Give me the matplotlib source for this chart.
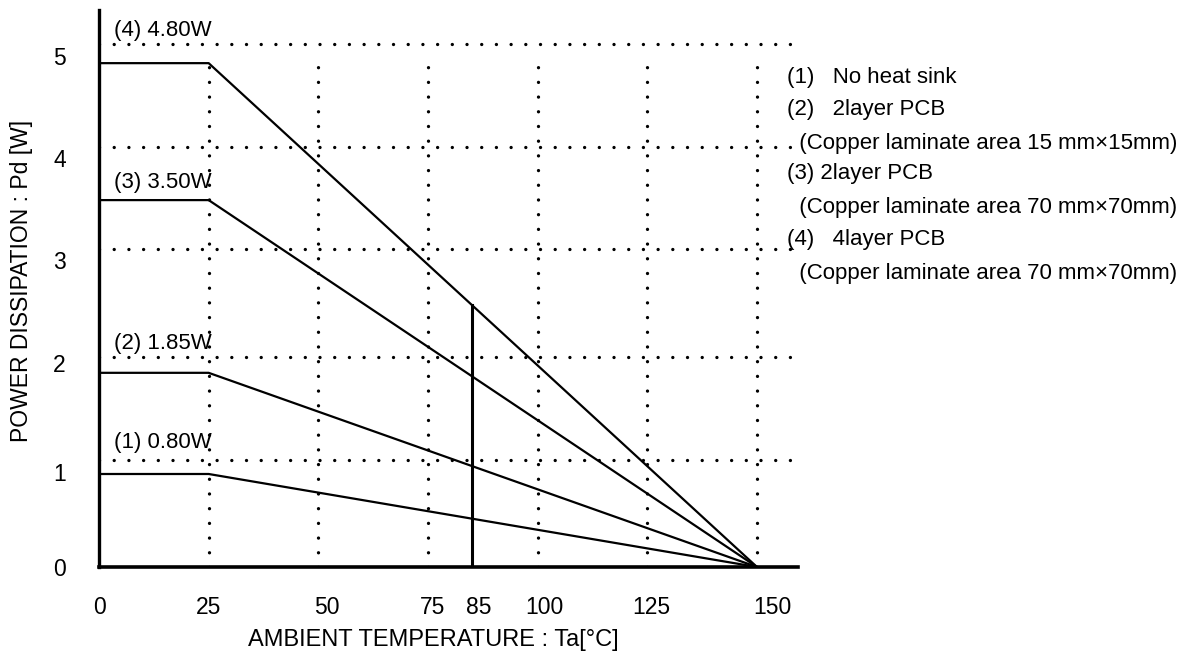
import numpy as np
import matplotlib
matplotlib.use("Agg")
import matplotlib.pyplot as plt

plt.rcParams['font.family'] = ['Liberation Sans', 'DejaVu Sans']

# ---- data ----
temp_points = [0, 25, 150]
curve_labels = ["(1) 0.80W", "(2) 1.85W", "(3) 3.50W", "(4) 4.80W"]
plateau_values = [0.91, 1.90, 3.59, 4.93]   # drawn heights (W)
label_y = [1.22, 2.19, 3.76, 5.25]
derate_line_temp = 85

xtick_pos = [0, 25, 52, 76, 86.5, 101.5, 126, 153.5]
xtick_labels = ["0", "25", "50", "75", "85", "100", "125", "150"]
ytick_pos = [0, 0.93, 2, 3, 4, 5]
ytick_labels = ["0", "1", "2", "3", "4", "5"]

grid_x = [25, 50, 75, 100, 125, 150]
grid_y = [1.05, 2.05, 3.11, 4.11, 5.12]

legend_lines = [
    "(1)   No heat sink",
    "(2)   2layer PCB",
    "  (Copper laminate area 15 mm×15mm)",
    "(3) 2layer PCB",
    "  (Copper laminate area 70 mm×70mm)",
    "(4)   4layer PCB",
    "  (Copper laminate area 70 mm×70mm)",
]

W, H = 1204, 654
fig = plt.figure(figsize=(W / 100, H / 100), dpi=100)
fig.patch.set_facecolor('white')

x0_px, x_end_px, y0_px, ytop_px = 99, 798, 567, 10
ax = fig.add_axes([x0_px / W, (H - y0_px) / H, (x_end_px - x0_px) / W, (y0_px - ytop_px) / H])
px_per_deg = (757 - 99) / 150
px_per_w = 102.2
ax.set_xlim(0, (x_end_px - x0_px) / px_per_deg)
ax.set_ylim(0, (y0_px - ytop_px) / px_per_w)

for s in ['top', 'right']:
    ax.spines[s].set_visible(False)
ax.spines['left'].set_linewidth(2.4)
ax.spines['bottom'].set_linewidth(2.6)

dot_style = dict(color='black', lw=2.4, linestyle=(0, (0.01, 4.4)), dash_capstyle='round')

# dotted grid
for gx in grid_x:
    ax.plot([gx, gx], [0, 5.03], **dot_style)
for gy in grid_y:
    ax.plot([0, 158.2], [gy, gy], **dot_style)

# curves
for v in plateau_values:
    ax.plot(temp_points, [v, v, 0], color='black', lw=1.6, solid_capstyle='butt')

# 85 deg vertical line up to curve (4)
top85 = np.interp(derate_line_temp, temp_points, [plateau_values[-1], plateau_values[-1], 0])
ax.plot([derate_line_temp, derate_line_temp], [0, top85], color='black', lw=2.2)

for lab, ly in zip(curve_labels, label_y):
    ax.text(3.4, ly, lab, fontsize=16, ha='left', va='center')

ax.set_xticks(xtick_pos)
ax.set_xticklabels(xtick_labels, fontsize=16.5)
ax.set_yticks(ytick_pos)
ax.set_yticklabels(ytick_labels, fontsize=16.5)
ax.tick_params(axis='x', length=0, pad=21)
ax.tick_params(axis='y', length=0, pad=24)

def ftext(xp, yp, s, **kw):
    fig.text(xp / W, 1 - yp / H, s, **kw)

ftext(433, 640, "AMBIENT TEMPERATURE : Ta[°C]", fontsize=17, ha='center', va='center')
ftext(22, 281, "POWER DISSIPATION : Pd [W]", fontsize=16.5, ha='center', va='center', rotation=90)

leg_y = [77, 110, 143, 174, 207, 239, 273]
for s, yy in zip(legend_lines, leg_y):
    ftext(787, yy, s, fontsize=16, ha='left', va='center')

fig.savefig("out.png", dpi=100, facecolor='white')
